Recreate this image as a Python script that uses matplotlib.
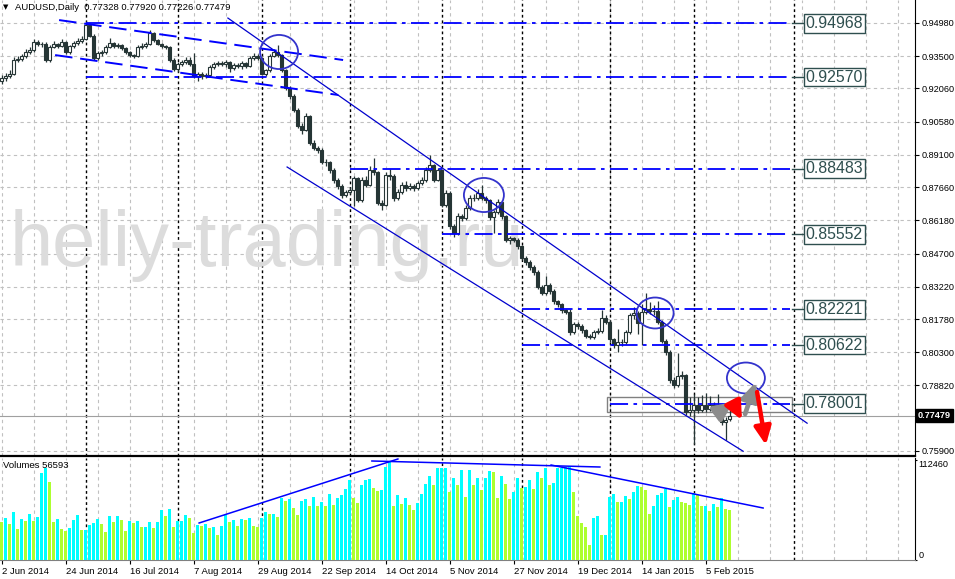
import numpy as np
import pandas as pd
import matplotlib
matplotlib.use("Agg")
import matplotlib.pyplot as plt
from matplotlib.patches import Ellipse, Rectangle
from matplotlib.transforms import blended_transform_factory

# ---------------- data (AUDUSD daily) ----------------
first_open = 0.9240
last_open = 0.77328

closes = [
    0.9253, 0.9262, 0.9271, 0.9333, 0.9337, 0.9351, 0.9369, 0.9378, 0.9413, 0.9404,
    0.9404, 0.9333, 0.9391, 0.9404, 0.9395, 0.9413, 0.9369, 0.9395, 0.9409, 0.9418,
    0.9427, 0.9489, 0.9440, 0.9342, 0.9364, 0.9369, 0.9391, 0.9409, 0.9395, 0.9400,
    0.9387, 0.9369, 0.9355, 0.9351, 0.9391, 0.9395, 0.9404, 0.9453, 0.9422, 0.9404,
    0.9395, 0.9391, 0.9333, 0.9293, 0.9315, 0.9324, 0.9333, 0.9315, 0.9262, 0.9271,
    0.9262, 0.9266, 0.9302, 0.9315, 0.9320, 0.9315, 0.9324, 0.9297, 0.9311, 0.9306,
    0.9320, 0.9306, 0.9342, 0.9351, 0.9342, 0.9271, 0.9288, 0.9351, 0.9369, 0.9355,
    0.9288, 0.9208, 0.9172, 0.9110, 0.9039, 0.9021, 0.9083, 0.8963, 0.8941, 0.8932,
    0.8878, 0.8878, 0.8842, 0.8798, 0.8771, 0.8731, 0.8744, 0.8753, 0.8807, 0.8709,
    0.8798, 0.8776, 0.8842, 0.8834, 0.8695, 0.8686, 0.8820, 0.8816, 0.8718, 0.8744,
    0.8776, 0.8762, 0.8771, 0.8762, 0.8784, 0.8798, 0.8842, 0.8865, 0.8798, 0.8842,
    0.8686, 0.8740, 0.8593, 0.8561, 0.8637, 0.8628, 0.8673, 0.8718, 0.8718, 0.8740,
    0.8718, 0.8709, 0.8633, 0.8655, 0.8700, 0.8637, 0.8530, 0.8539, 0.8530, 0.8503,
    0.8450, 0.8432, 0.8410, 0.8388, 0.8321, 0.8294, 0.8330, 0.8303, 0.8258, 0.8245,
    0.8218, 0.8209, 0.8120, 0.8156, 0.8147, 0.8129, 0.8102, 0.8098, 0.8120, 0.8125,
    0.8182, 0.8165, 0.8089, 0.8062, 0.8075, 0.8075, 0.8120, 0.8196, 0.8205, 0.8160,
    0.8209, 0.8222, 0.8214, 0.8214, 0.8165, 0.8080, 0.8031, 0.7906, 0.7884, 0.7924,
    0.7928, 0.7763, 0.7772, 0.7794, 0.7772, 0.7794, 0.7776, 0.7794, 0.7772, 0.7794,
    0.7719, 0.7728, 0.77479,
]

highs = [
    0.9268, 0.9275, 0.9290, 0.9345, 0.9350, 0.9362, 0.9380, 0.9392, 0.9425, 0.9420,
    0.9415, 0.9412, 0.9400, 0.9418, 0.9410, 0.9428, 0.9418, 0.9402, 0.9416, 0.9430,
    0.9438, 0.9505, 0.9500, 0.9448, 0.9372, 0.9378, 0.9402, 0.9432, 0.9415, 0.9410,
    0.9405, 0.9392, 0.9375, 0.9362, 0.9398, 0.9408, 0.9412, 0.9468, 0.9460, 0.9428,
    0.9410, 0.9402, 0.9395, 0.9340, 0.9322, 0.9335, 0.9345, 0.9348, 0.9365, 0.9280,
    0.9278, 0.9275, 0.9310, 0.9325, 0.9330, 0.9328, 0.9332, 0.9330, 0.9318, 0.9320,
    0.9330, 0.9325, 0.9352, 0.9365, 0.9360, 0.9348, 0.9295, 0.9360, 0.9380, 0.9400,
    0.9362, 0.9295, 0.9215, 0.9180, 0.9118, 0.9050, 0.9095, 0.9090, 0.8975, 0.8950,
    0.8940, 0.8890, 0.8885, 0.8850, 0.8805, 0.8780, 0.8752, 0.8765, 0.8818, 0.8812,
    0.8810, 0.8815, 0.8860, 0.8896, 0.8840, 0.8710, 0.8835, 0.8845, 0.8825, 0.8760,
    0.8790, 0.8795, 0.8785, 0.8780, 0.8795, 0.8810, 0.8855, 0.8910, 0.8870, 0.8852,
    0.8848, 0.8752, 0.8748, 0.8600, 0.8650, 0.8645, 0.8685, 0.8730, 0.8735, 0.8760,
    0.8778, 0.8725, 0.8715, 0.8665, 0.8712, 0.8705, 0.8642, 0.8548, 0.8545, 0.8538,
    0.8510, 0.8458, 0.8440, 0.8418, 0.8395, 0.8330, 0.8370, 0.8340, 0.8310, 0.8265,
    0.8250, 0.8225, 0.8222, 0.8165, 0.8165, 0.8155, 0.8135, 0.8110, 0.8130, 0.8140,
    0.8220, 0.8195, 0.8172, 0.8095, 0.8135, 0.8090, 0.8130, 0.8205, 0.8230, 0.8215,
    0.8245, 0.8294, 0.8255, 0.8240, 0.8260, 0.8172, 0.8088, 0.8040, 0.7920, 0.8027,
    0.7945, 0.7935, 0.7830, 0.7845, 0.7830, 0.7840, 0.7850, 0.7835, 0.7810, 0.7845,
    0.7800, 0.7740, 0.7792,
]

lows = [
    0.9228, 0.9240, 0.9255, 0.9265, 0.9322, 0.9330, 0.9344, 0.9360, 0.9370, 0.9395,
    0.9390, 0.9322, 0.9325, 0.9385, 0.9388, 0.9390, 0.9360, 0.9362, 0.9388, 0.9400,
    0.9410, 0.9420, 0.9435, 0.9335, 0.9335, 0.9352, 0.9360, 0.9385, 0.9388, 0.9385,
    0.9378, 0.9360, 0.9345, 0.9340, 0.9345, 0.9382, 0.9388, 0.9398, 0.9415, 0.9398,
    0.9388, 0.9380, 0.9325, 0.9285, 0.9280, 0.9305, 0.9315, 0.9305, 0.9255, 0.9240,
    0.9250, 0.9252, 0.9258, 0.9295, 0.9305, 0.9308, 0.9302, 0.9280, 0.9290, 0.9298,
    0.9295, 0.9298, 0.9300, 0.9335, 0.9335, 0.9265, 0.9262, 0.9280, 0.9345, 0.9348,
    0.9280, 0.9200, 0.9160, 0.9100, 0.9030, 0.9005, 0.9015, 0.8955, 0.8930, 0.8920,
    0.8868, 0.8862, 0.8830, 0.8785, 0.8760, 0.8720, 0.8722, 0.8735, 0.8680, 0.8698,
    0.8700, 0.8765, 0.8770, 0.8822, 0.8685, 0.8665, 0.8680, 0.8800, 0.8705, 0.8710,
    0.8735, 0.8750, 0.8752, 0.8750, 0.8755, 0.8778, 0.8790, 0.8835, 0.8790, 0.8792,
    0.8678, 0.8678, 0.8580, 0.8545, 0.8555, 0.8615, 0.8620, 0.8665, 0.8705, 0.8710,
    0.8710, 0.8695, 0.8620, 0.8562, 0.8648, 0.8625, 0.8520, 0.8512, 0.8520, 0.8490,
    0.8440, 0.8420, 0.8398, 0.8375, 0.8310, 0.8285, 0.8285, 0.8290, 0.8245, 0.8232,
    0.8205, 0.8200, 0.8108, 0.8110, 0.8135, 0.8118, 0.8092, 0.8088, 0.8090, 0.8110,
    0.8118, 0.8155, 0.8075, 0.8050, 0.8030, 0.8060, 0.8065, 0.8110, 0.8180, 0.8110,
    0.8062, 0.8200, 0.8200, 0.8195, 0.8155, 0.8070, 0.8020, 0.7895, 0.7870, 0.7875,
    0.7910, 0.7750, 0.7745, 0.7620, 0.7760, 0.7765, 0.7765, 0.7770, 0.7755, 0.7765,
    0.7705, 0.7640, 0.77226,
]

volumes = [
    42750, 47250, 40500, 54000, 34875, 46125, 43875, 51750, 43875, 48375,
    97875, 103500, 87750, 42750, 46125, 34875, 32625, 36000, 45000, 50625,
    33750, 33750, 39375, 41625, 46125, 40500, 31500, 49500, 42750, 49500,
    45000, 32625, 43875, 41625, 43875, 37125, 37125, 42750, 36000, 42750,
    56250, 49500, 57375, 37125, 43875, 43875, 50625, 47250, 30375, 39375,
    38250, 40500, 36000, 37125, 28125, 38250, 50625, 42750, 45000, 38250,
    46125, 45000, 47250, 38250, 37125, 47250, 54000, 51750, 51750, 48375,
    69750, 66375, 68625, 58500, 50625, 66375, 68625, 60750, 70875, 60750,
    65250, 60750, 74250, 61875, 69750, 73125, 79875, 90000, 69750, 64125,
    84375, 90000, 91125, 81000, 77625, 78750, 104625, 110250, 60750, 73125,
    63000, 69750, 61875, 56250, 64125, 74250, 85500, 94500, 84375, 103500,
    103500, 103500, 76500, 92250, 84375, 101250, 70875, 101250, 84375, 92250,
    78750, 92250, 100125, 99000, 69750, 94500, 85500, 68625, 76500, 92250,
    81000, 82125, 90000, 79875, 99000, 92250, 103500, 84375, 86625, 103500,
    104000, 104625, 105200, 76500, 49500, 41625, 37125, 16875, 47250, 49500,
    28125, 28125, 70875, 74250, 65250, 65250, 72000, 68625, 76500, 83250,
    82125, 78750, 51750, 60750, 73125, 75375, 79875, 59625, 67500, 70875,
    65250, 64125, 61875, 75375, 73125, 60750, 60750, 55125, 63000, 59625,
    69750, 57375, 56593,
]

dates = pd.bdate_range("2014-06-02", "2015-02-13", freq="C",
                       holidays=["2014-12-25", "2015-01-01"])

price_ticks = [0.94980, 0.93500, 0.92060, 0.90580, 0.89100, 0.87660, 0.86180,
               0.84700, 0.83220, 0.81780, 0.80300, 0.78820, 0.75900]

# drawn objects (bar index, price)
levels = [0.94968, 0.92570, 0.88483, 0.85552, 0.82221, 0.80622, 0.78001]
level_start = [21, 21, 87, 110, 130, 130, 152]
level_end = 197
chan_upper = ([56.6, 201.4], [0.9520, 0.7714])
chan_lower = ([71.4, 185.4], [0.8856, 0.7589])
flat_upper = ([14.4, 85.4], [0.9511, 0.9333])
flat_lower = ([13.4, 84.2], [0.9355, 0.9177])
circles = [(69.4, 0.93687, 9.5, 0.0152), (120.6, 0.87312, 10.0, 0.0152),
           (163.4, 0.82052, 9.25, 0.0138), (186.1, 0.79154, 9.5, 0.0138)]
zone = (151.4, 0.77638, 46.2, 0.00669)
gray_arrows = [((179.1, 0.77594), (182.9, 0.78084)), ((185.9, 0.77549), (188.6, 0.78976))]
red_arrows = [((182.9, 0.78040), (185.1, 0.77282)), ((188.9, 0.78530), (191.1, 0.76167))]
vol_lines = [([49.4, 99.1], [41625, 113625]), ([92.6, 149.6], [111375, 104625]),
             ([137.4, 190.4], [106875, 58500])]
future_sep = 198

# ---------------- figure ----------------
W, H = 955, 579
fig = plt.figure(figsize=(W / 100, H / 100), dpi=100)
ax = fig.add_axes([0, 123 / H, 915 / W, 456 / H])
axv = fig.add_axes([0, 19 / H, 915 / W, 102 / H])

dark = "#253535"
blue = "#0000FF"
grid_c = "#C0C0C0"
FONT = "Liberation Sans"

n = len(closes)
idx = np.arange(n)
c = np.array(closes)
opens = np.array([first_open] + closes[:-1])
opens[-1] = last_open
hi = np.maximum(np.array(highs), np.maximum(opens, c))
lo = np.minimum(np.array(lows), np.minimum(opens, c))
up = c >= opens

xlim = (-0.375, 228.375)
month_sep = [i for i in range(1, n) if dates[i].month != dates[i - 1].month]
for a in (ax, axv):
    a.set_xlim(*xlim)
    a.set_facecolor("white")
    for g in range(0, 229, 8):
        a.axvline(g, color=grid_c, lw=0.8, ls=(0, (3, 3)), zorder=0)
    for m in month_sep + [future_sep]:
        a.axvline(m, color="black", lw=1.0, ls=(0, (2, 2)), zorder=1)
    for s in ("left", "top"):
        a.spines[s].set_visible(False)
    a.spines["right"].set_color("black")

ax.set_ylim(0.75677, 0.96005)
for p in price_ticks:
    ax.axhline(p, color=grid_c, lw=0.8, ls=(0, (3, 3)), zorder=0)

# watermark
ax.text(10 / 915, 1 - 266 / 456, "heliy-trading.ru", transform=ax.transAxes,
        fontsize=56, family=FONT, color="#DCDCDC", va="baseline", ha="left", zorder=1)

# candles
ax.vlines(idx, lo, hi, color=dark, lw=0.9, zorder=3)
body_lo = np.minimum(opens, c)
body_h = np.maximum(np.abs(c - opens), 0.00018)
ax.bar(idx[up], body_h[up], bottom=body_lo[up], width=0.72, color="white",
       edgecolor=dark, linewidth=0.8, zorder=4)
ax.bar(idx[~up], body_h[~up], bottom=body_lo[~up], width=0.72, color=dark,
       edgecolor=dark, linewidth=0.8, zorder=4)

# current price line and zone
ax.axhline(closes[-1], color="#A0A0A0", lw=0.8, zorder=2)
ax.add_patch(Rectangle((zone[0], zone[1]), zone[2], zone[3], fill=False,
                       ec="#808080", lw=1.0, zorder=2))

# levels with price labels
for lev, st in zip(levels, level_start):
    ax.plot([st, level_end], [lev, lev], color=blue, lw=1.3,
            ls=(0, (10, 3, 2, 3)), zorder=5)
    ax.plot([level_end + 0.5, 200.9], [lev, lev], color="#2F4F4F", lw=1.0, zorder=5)
    ax.text(201.0, lev, f"{lev:.5f}", fontsize=11.4, family=FONT, color="#2F4F4F",
            va="center", ha="left", zorder=6,
            bbox=dict(boxstyle="square,pad=0.12", fc="white", ec="#2F4F4F", lw=1.0))

# channels
for xs, ys in (chan_upper, chan_lower):
    ax.plot(xs, ys, color="#0000CD", lw=0.9, zorder=5)
for xs, ys in (flat_upper, flat_lower):
    ax.plot(xs, ys, color=blue, lw=1.4, ls=(0, (9, 4)), zorder=5)

for cx, cy, w, h in circles:
    ax.add_patch(Ellipse((cx, cy), w, h, fill=False, ec="#3333CC", lw=1.3, zorder=6))

# forecast arrows
for (x0, y0), (x1, y1) in gray_arrows:
    ax.annotate("", xy=(x1, y1), xytext=(x0, y0), zorder=7,
                arrowprops=dict(arrowstyle="-|>,head_length=0.6,head_width=0.28",
                                lw=3.4, color="#8C8C8C", mutation_scale=18,
                                shrinkA=0, shrinkB=0))
for (x0, y0), (x1, y1) in red_arrows:
    ax.annotate("", xy=(x1, y1), xytext=(x0, y0), zorder=7,
                arrowprops=dict(arrowstyle="-|>,head_length=0.6,head_width=0.28",
                                lw=3.2, color="#FF0000", mutation_scale=18,
                                shrinkA=0, shrinkB=0))

# right price axis
ax.yaxis.tick_right()
ax.set_yticks(price_ticks)
ax.set_yticklabels([f"{p:.5f}" for p in price_ticks])
ax.tick_params(axis="y", length=3, width=0.8, pad=2, labelsize=6.6, colors="black")
for lbl in ax.get_yticklabels():
    lbl.set_family(FONT)
ax.set_xticks([])
ax.spines["bottom"].set_linewidth(1.6)
ax.spines["bottom"].set_color("black")

tr = blended_transform_factory(ax.transAxes, ax.transData)
ax.text(1.0 + 3 / 915, closes[-1], f"{closes[-1]:.5f}", transform=tr, color="white",
        fontsize=6.6, family=FONT, fontweight="bold", va="center", ha="left",
        bbox=dict(boxstyle="square,pad=0.25", fc="black", ec="black"), clip_on=False)

# header
fig.text(3 / W, 1 - 7 / H, "\u25bc", fontsize=5, color="black", va="center",
         family="DejaVu Sans")
fig.text(15 / W, 1 - 7 / H, "AUDUSD,Daily  0.77328 0.77920 0.77226 0.77479",
         fontsize=6.8, family=FONT, color="black", va="center")

# ---------------- volumes ----------------
vol = np.array(volumes)
vcol = ["#ADFF2F"] + ["#00FFFF" if vol[i] >= vol[i - 1] else "#ADFF2F" for i in range(1, n)]
axv.bar(idx, vol, width=0.92, color=vcol, linewidth=0, zorder=3)
axv.set_ylim(0, 114750)
for xs, ys in vol_lines:
    axv.plot(xs, ys, color=blue, lw=1.1, zorder=5, clip_on=False)
axv.text(3 / 915, 1 - 8 / 102, f"Volumes {volumes[-1]}", transform=axv.transAxes,
         fontsize=6.8, family=FONT, color="black", va="center", ha="left", zorder=6)

axv.yaxis.tick_right()
axv.set_yticks([0, 112460])
axv.set_yticklabels(["0", "112460"])
axv.tick_params(axis="y", length=1.5, width=0.8, pad=0.8, labelsize=6.6)
ylbls = axv.get_yticklabels()
ylbls[0].set_va("bottom")
ylbls[1].set_va("top")
for lbl in ylbls:
    lbl.set_family(FONT)

tick_pos = list(range(0, n, 16))
axv.set_xticks(tick_pos)
axv.set_xticklabels([f"{dates[i].day} {dates[i]:%b %Y}" for i in tick_pos],
                    ha="left", fontsize=6.8, family=FONT)
axv.tick_params(axis="x", length=3, width=0.8, pad=2)
axv.spines["top"].set_color("black")
axv.spines["top"].set_linewidth(1.2)
axv.spines["bottom"].set_color("#808080")
axv.spines["bottom"].set_linewidth(0.8)

fig.savefig("out.png", dpi=100)
